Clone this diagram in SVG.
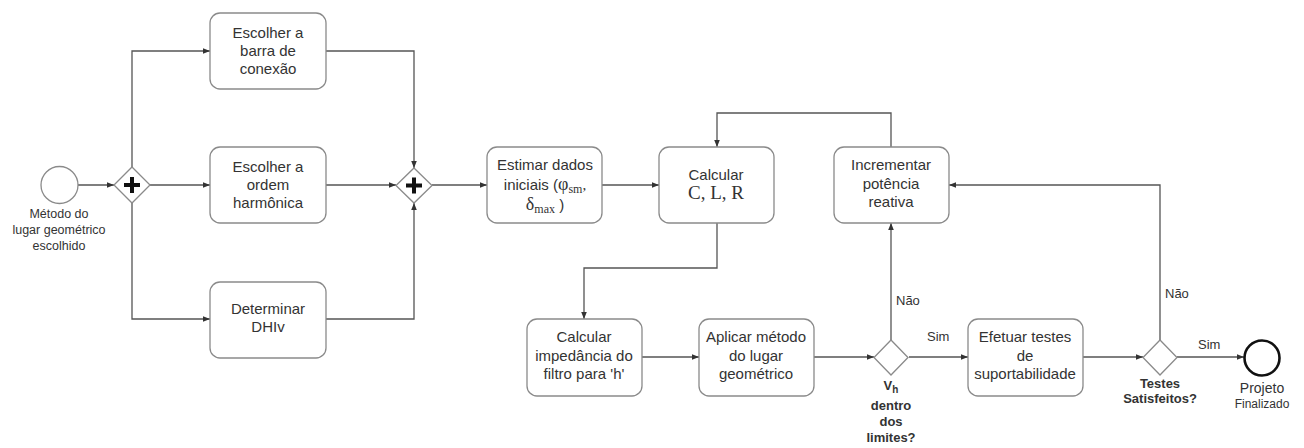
<svg xmlns="http://www.w3.org/2000/svg" width="1304" height="448" viewBox="0 0 1304 448">
  <defs>
    <marker id="arrow" viewBox="0 0 8 8" refX="8" refY="4" markerWidth="7" markerHeight="7" markerUnits="userSpaceOnUse" orient="auto">
      <path d="M0,0.8 L8,4 L0,7.2 Z" fill="#333"/>
    </marker>
    <style>
      .box { fill: #fff; stroke: #8a8a8a; stroke-width: 1.3; }
      .gw { fill: #fff; stroke: #8a8a8a; stroke-width: 1.3; }
      .plus { stroke: #111; stroke-width: 4; stroke-linecap: butt; }
      .t { font-family: "Liberation Sans", Arial, sans-serif; font-size: 15px; fill: #333; text-anchor: middle; }
      .s { font-family: "Liberation Serif", "Times New Roman", serif; fill: #333; }
      .lbl { font-family: "Liberation Sans", Arial, sans-serif; font-size: 13px; fill: #333; }
      .b { font-family: "Liberation Sans", Arial, sans-serif; font-size: 13px; font-weight: bold; fill: #333; text-anchor: middle; }
      .c { fill: none; stroke: #555; stroke-width: 1.3; marker-end: url(#arrow); }
    </style>
  </defs>
  <rect width="1304" height="448" fill="#fff"/>

  <!-- connectors -->
  <g id="connectors">
    <path class="c" d="M78,185 H114"/>
    <path class="c" d="M150,185 H210"/>
    <path class="c" d="M132,167 V51 H210"/>
    <path class="c" d="M132,203 V319 H210"/>
    <path class="c" d="M326,51 H414 V168"/>
    <path class="c" d="M326,185 H396"/>
    <path class="c" d="M326,319 H414 V203"/>
    <path class="c" d="M432,185 H487"/>
    <path class="c" d="M602,185 H659"/>
    <path class="c" d="M717,223 V268 H584 V319"/>
    <path class="c" d="M891,147 V113 H717 V147"/>
    <path class="c" d="M642,357 H699"/>
    <path class="c" d="M814,357 H874"/>
    <path class="c" d="M891,340 V223"/>
    <path class="c" d="M909,357 H968"/>
    <path class="c" d="M1083,357 H1143"/>
    <path class="c" d="M1160,340 V185 H949"/>
    <path class="c" d="M1177,357 H1244"/>
    <text class="lbl" x="896" y="305">Não</text>
    <text class="lbl" x="927" y="341">Sim</text>
    <text class="lbl" x="1165" y="298">Não</text>
    <text class="lbl" x="1198" y="349">Sim</text>
  </g>

  <!-- start event -->
  <g id="start">
    <circle cx="59.5" cy="185" r="18.5" fill="#fff" stroke="#8a8a8a" stroke-width="1.3"/>
    <text class="t" style="font-size:12.5px" x="59" y="218">Método do</text>
    <text class="t" style="font-size:12.5px" x="59" y="234">lugar geométrico</text>
    <text class="t" style="font-size:12.5px" x="59" y="250">escolhido</text>
  </g>

  <!-- parallel gateways -->
  <g id="gateway-split">
    <path class="gw" d="M132,167 L150,185 L132,203 L114,185 Z"/>
    <path class="plus" d="M124,185 H140 M132,177 V193"/>
  </g>
  <g id="gateway-join">
    <path class="gw" d="M414,168 L432,185.5 L414,203 L396,185.5 Z"/>
    <path class="plus" d="M406,185.5 H422 M414,177.5 V193.5"/>
  </g>

  <g id="barra">
    <rect class="box" x="210" y="13" width="116" height="76" rx="10"/>
    <text class="t" x="268" y="38">Escolher a</text>
    <text class="t" x="268" y="56">barra de</text>
    <text class="t" x="268" y="74">conexão</text>
  </g>

  <g id="ordem">
    <rect class="box" x="210" y="147" width="116" height="76" rx="10"/>
    <text class="t" x="268" y="172">Escolher a</text>
    <text class="t" x="268" y="190">ordem</text>
    <text class="t" x="268" y="208">harmônica</text>
  </g>

  <g id="dhiv">
    <rect class="box" x="210" y="282" width="116" height="76" rx="10"/>
    <text class="t" x="268" y="314">Determinar</text>
    <text class="t" x="268" y="332">DHIv</text>
  </g>

  <g id="estimar">
    <rect class="box" x="487" y="147" width="115" height="76" rx="10"/>
    <text class="t" x="545" y="170">Estimar dados</text>
    <text class="t" x="545" y="190">iniciais (<tspan class="s" font-size="18">φ</tspan><tspan class="s" font-size="12" dy="3">sm</tspan><tspan class="s" font-size="15" dy="-3">,</tspan></text>
    <text class="t" x="545" y="210"><tspan class="s" font-size="18">δ</tspan><tspan class="s" font-size="12" dy="3">max</tspan><tspan dy="-3"> )</tspan></text>
  </g>

  <g id="calcular">
    <rect class="box" x="659" y="147" width="115" height="76" rx="10"/>
    <text class="t" x="716" y="180">Calcular</text>
    <text class="t" style="font-family:'Liberation Serif','Times New Roman',serif;font-size:19px" x="716" y="199">C, L, R</text>
  </g>

  <g id="incrementar">
    <rect class="box" x="834" y="147" width="115" height="76" rx="10"/>
    <text class="t" x="891" y="170">Incrementar</text>
    <text class="t" x="891" y="189">potência</text>
    <text class="t" x="891" y="207">reativa</text>
  </g>

  <g id="impedancia">
    <rect class="box" x="527" y="319" width="115" height="77" rx="10"/>
    <text class="t" x="584" y="342">Calcular</text>
    <text class="t" x="584" y="361">impedância do</text>
    <text class="t" x="584" y="379">filtro para 'h'</text>
  </g>

  <g id="aplicar">
    <rect class="box" x="699" y="319" width="115" height="77" rx="10"/>
    <text class="t" x="756" y="342">Aplicar método</text>
    <text class="t" x="756" y="361">do lugar</text>
    <text class="t" x="756" y="379">geométrico</text>
  </g>

  <g id="decisao-vh">
    <path class="gw" d="M891,340 L908,357.5 L891,375 L874,357.5 Z"/>
    <text class="b" x="891" y="390">V<tspan font-size="10" dy="3">h</tspan></text>
    <text class="b" x="891" y="410">dentro</text>
    <text class="b" x="891" y="426">dos</text>
    <text class="b" x="891" y="442">limites?</text>
  </g>

  <g id="efetuar">
    <rect class="box" x="968" y="319" width="115" height="77" rx="10"/>
    <text class="t" x="1025" y="342">Efetuar testes</text>
    <text class="t" x="1025" y="361">de</text>
    <text class="t" x="1025" y="379">suportabilidade</text>
  </g>

  <g id="decisao-testes">
    <path class="gw" d="M1160,340 L1177,357.5 L1160,375 L1143,357.5 Z"/>
    <text class="b" x="1160" y="388">Testes</text>
    <text class="b" x="1160" y="403">Satisfeitos?</text>
  </g>

  <g id="fim">
    <circle cx="1262" cy="358" r="17.5" fill="#fff" stroke="#111" stroke-width="2.6"/>
    <text class="t" style="font-size:14px" x="1262" y="393">Projeto</text>
    <text class="t" style="font-size:12px" x="1262" y="408">Finalizado</text>
  </g>
</svg>
